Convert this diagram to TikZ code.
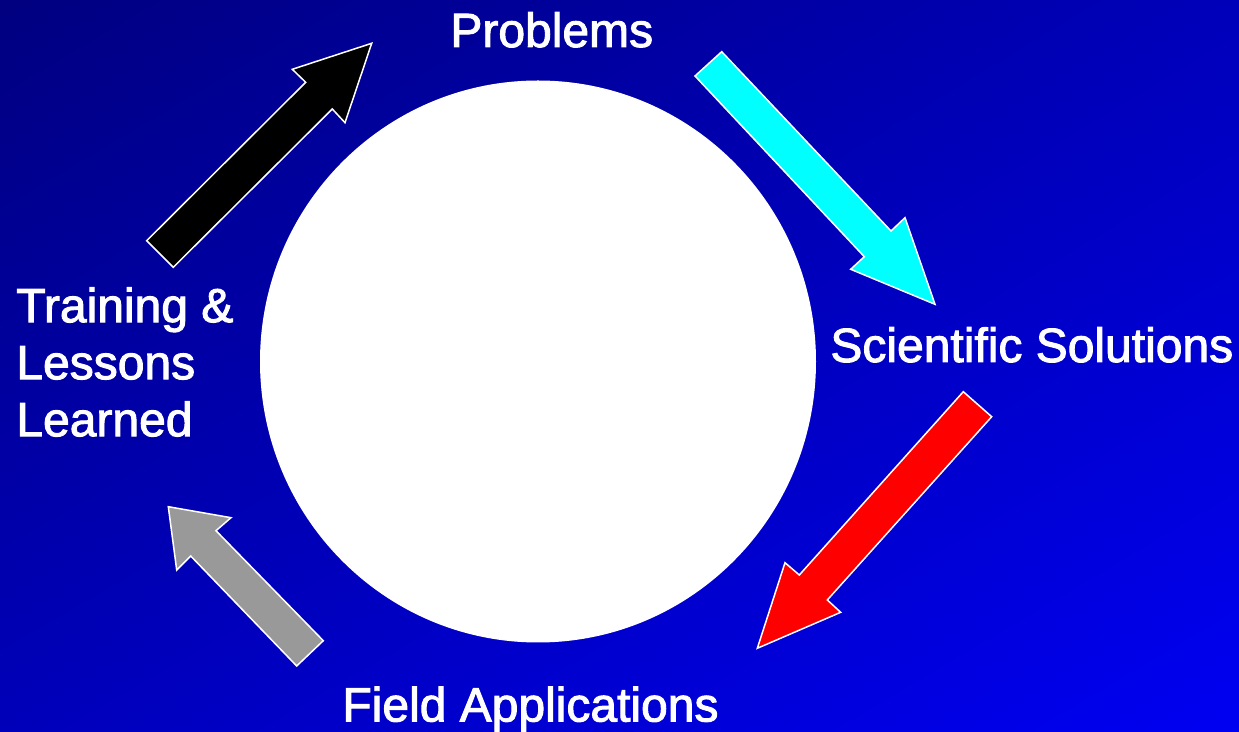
\documentclass[tikz,border=0pt]{standalone}
\usepackage{fontspec}
\setmainfont{Liberation Sans}
\newfontfamily\lblfont{Liberation Sans}[FakeBold=2]
\usetikzlibrary{shadings}
\definecolor{bgTL}{RGB}{0,0,128}
\definecolor{bgMid}{RGB}{0,0,186}
\definecolor{bgBR}{RGB}{0,0,242}
\definecolor{arrCyan}{RGB}{0,255,255}
\definecolor{arrRed}{RGB}{255,0,0}
\definecolor{arrGray}{RGB}{153,153,153}
\tikzset{
  blockarrow/.style={draw=white, line width=0.75pt, line join=miter},
  label/.style={text=white, inner sep=0pt, font=\lblfont\fontsize{24}{28.5}\selectfont},
}
\begin{document}
\begin{tikzpicture}[x=0.5pt,y=-0.5pt]
\useasboundingbox (0,0) rectangle (1239,732);
\shade[upper left=bgTL, upper right=bgMid, lower left=bgMid, lower right=bgBR] (0,0) rectangle (1239,732);
% central circle
\fill[white] (538,361.5) ellipse [x radius=278, y radius=281];
% black arrow (up-right)
\filldraw[blockarrow, fill=black] (146.7,240.7) -- (305.7,82.3) -- (292.3,69.3) -- (371.7,43.3) -- (345,122.7) -- (332.3,109) -- (173.3,267.3) -- cycle;
% cyan arrow (down-right)
\filldraw[blockarrow, fill=arrCyan] (695,76) -- (864.3,256.7) -- (850.7,269.3) -- (935,304.3) -- (905,217.7) -- (891,231) -- (721.7,51.7) -- cycle;
% red arrow (down-left)
\filldraw[blockarrow, fill=arrRed] (963.3,391.7) -- (799.3,575) -- (785,562.7) -- (757.3,648.3) -- (840.7,612.3) -- (827.3,600) -- (991.7,416.7) -- cycle;
% gray arrow (up-left)
\filldraw[blockarrow, fill=arrGray] (323.3,640.7) -- (216,530.7) -- (231,517.7) -- (168.3,506.7) -- (176.7,570) -- (190.7,556) -- (296.7,666) -- cycle;
% labels
\node[label, anchor=base west] (problems) at (450,47) {Problems};
\node[label, anchor=base west] (solutions) at (830,362) {Scientific Solutions};
\node[label, anchor=base west] (field) at (342,721.5) {Field Applications};
\node[label, anchor=north west, align=left] (training) at (16,287) {Training \&\\Lessons\\Learned};
\end{tikzpicture}
\end{document}
